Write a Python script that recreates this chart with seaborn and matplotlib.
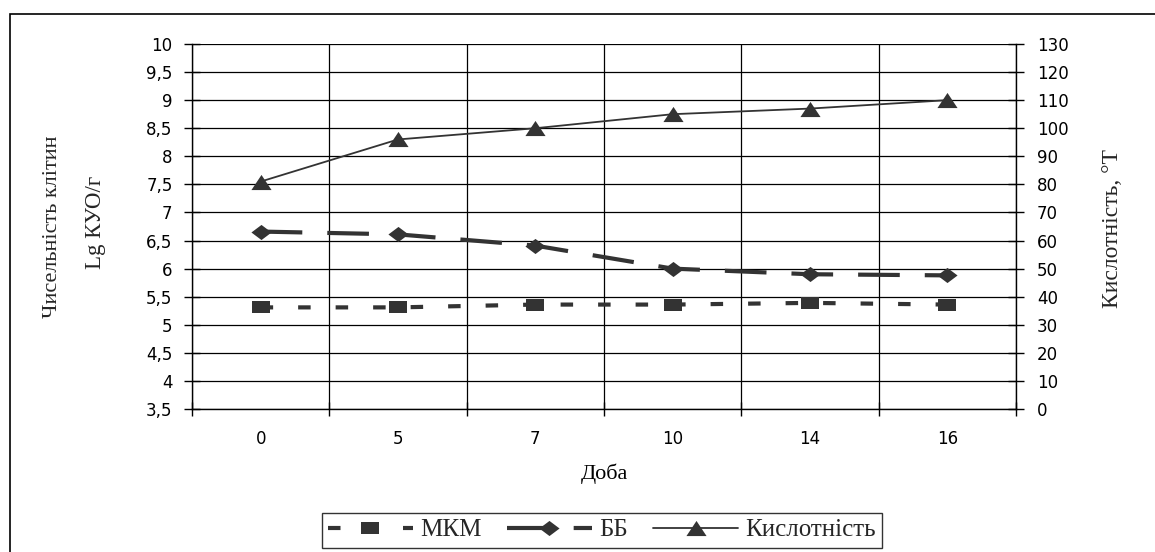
import numpy as np
import pandas as pd
import matplotlib
matplotlib.use("Agg")
import matplotlib.pyplot as plt
from matplotlib.patches import Rectangle
import seaborn as sns

# data
days = ["0", "5", "7", "10", "14", "16"]
mkm = [5.31, 5.31, 5.36, 5.36, 5.39, 5.36]
bb = [6.66, 6.61, 6.41, 6.00, 5.90, 5.88]
acidity = [81, 96, 100, 105, 107, 110]

left_ticks = np.arange(3.5, 10.01, 0.5)
right_ticks = np.arange(0, 131, 10)

sns.set_theme(style="white")
plt.rcParams["font.family"] = ["DejaVu Sans"]

INK = "#333333"
SERIF = ["Liberation Serif", "DejaVu Serif"]

# stretched markers like the original (wider than tall)
sq = [(-1.45, -1), (1.45, -1), (1.45, 1), (-1.45, 1), (-1.45, -1)]
dia = [(-1.33, 0), (0, -1), (1.33, 0), (0, 1), (-1.33, 0)]
tri = [(-1.33, -1), (1.33, -1), (0, 1), (-1.33, -1)]

df = pd.DataFrame({"day": days, "mkm": mkm, "bb": bb, "acid": acidity})

fig = plt.figure(figsize=(11.55, 5.52), dpi=100)
ax = fig.add_axes([0.1662, 0.259, 0.7135, 0.6613])
ax2 = ax.twinx()

sns.lineplot(data=df, x="day", y="mkm", ax=ax, sort=False, color=INK,
             lw=3, linestyle=(0, (3, 6)), marker=sq, markersize=13.5,
             markeredgewidth=0, label="МКМ")
sns.lineplot(data=df, x="day", y="bb", ax=ax, sort=False, color=INK,
             lw=3, linestyle=(0, (10, 6)), marker=dia, markersize=14.5,
             markeredgewidth=0, label="ББ")
sns.lineplot(data=df, x="day", y="acid", ax=ax2, sort=False, color=INK,
             lw=1.3, marker=tri, markersize=14.5, markeredgewidth=0,
             label="Кислотність")

h1, l1 = ax.get_legend_handles_labels()
h2, l2 = ax2.get_legend_handles_labels()
ax.get_legend().remove()
ax2.get_legend().remove()

ax.set_xlim(-0.5, len(days) - 0.5)
ax.set_ylim(3.5, 10)
ax2.set_ylim(0, 130)
ax.set_yticks(left_ticks)
ax.set_yticklabels([f"{v:g}".replace(".", ",") for v in left_ticks])
ax2.set_yticks(right_ticks)
ax2.set_yticklabels([str(v) for v in right_ticks])

ax.set_xticks(range(len(days)))
ax.set_xticklabels(days)
ax.set_xticks(np.arange(-0.5, len(days)), minor=True)

ax.grid(False)
ax2.grid(False)
ax.yaxis.grid(True, which="major", color="black", lw=0.9)
ax.xaxis.grid(True, which="minor", color="black", lw=0.9)

for a in (ax, ax2):
    for s in a.spines.values():
        s.set_visible(False)
ax.spines["left"].set_visible(True)
ax.spines["bottom"].set_visible(True)
ax2.spines["right"].set_visible(True)
for s in (ax.spines["left"], ax.spines["bottom"], ax2.spines["right"]):
    s.set_color("black")
    s.set_linewidth(1)

ax.tick_params(axis="y", which="major", direction="inout", length=12,
               width=1, color="black", pad=8, labelsize=12, labelcolor="black")
ax2.tick_params(axis="y", which="major", direction="inout", length=12,
                width=1, color="black", pad=9, labelsize=12, labelcolor="black")
ax.tick_params(axis="x", which="major", length=0, pad=15, labelsize=12,
               labelcolor="black")
ax.tick_params(axis="x", which="minor", direction="inout", length=10,
               width=1, color="black", bottom=True)

ax.set_xlabel("Доба", family=SERIF, fontsize=16, labelpad=11, color="black")
ax.set_ylabel("")
ax2.set_ylabel("")

fig.text(53 / 1155, 1 - 227 / 552, "Чисельність клітин", rotation=90,
         ha="center", va="center", family=SERIF, fontsize=16)
fig.text(95 / 1155, 1 - 222 / 552, "Lg КУО/г", rotation=90,
         ha="center", va="center", family=SERIF, fontsize=16.5)
fig.text(1112 / 1155, 1 - 228 / 552, "Кислотність, °Т", rotation=90,
         ha="center", va="center", family=SERIF, fontsize=17)

leg = fig.legend(h1 + h2, l1 + l2, loc="center", ncol=3,
                 bbox_to_anchor=(602 / 1155, 1 - 530 / 552),
                 prop={"family": SERIF, "size": 18}, frameon=True,
                 fancybox=False, edgecolor="black", handlelength=3.4,
                 handletextpad=0.3, columnspacing=1.0, borderpad=0.25,
                 borderaxespad=0)
leg.get_frame().set_linewidth(1)

# outer chart-area frame (only left and top edges visible in the crop)
top = 1 - 14 / 552
fig.patches.append(Rectangle((10 / 1155, -0.2), 1.5, top + 0.2,
                             transform=fig.transFigure, fill=False,
                             edgecolor="black", lw=1.2, zorder=-1))

fig.savefig("out.png", dpi=100)
